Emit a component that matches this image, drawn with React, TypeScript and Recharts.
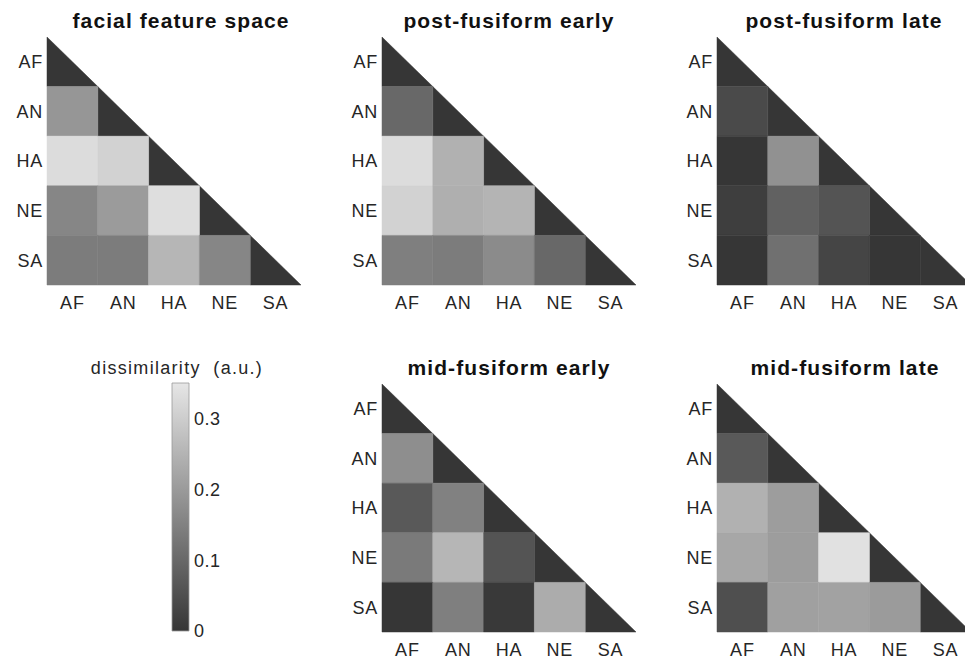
import React from "react";
import { ComposedChart, ReferenceArea, XAxis, YAxis } from "recharts";

const LABELS = ["AF", "AN", "HA", "NE", "SA"];
const CENTER_TICKS = [0.5, 1.5, 2.5, 3.5, 4.5];
const COLORBAR_TICKS = [0, 0.1, 0.2, 0.3];
const V_MAX = 0.35;

// lower triangle, rows AN..SA, columns AF.. (diagonal is 0)
const FACIAL_FEATURE_SPACE = [
  [0.19],
  [0.33, 0.31],
  [0.16, 0.2, 0.335],
  [0.14, 0.14, 0.255, 0.16],
];
const POST_FUSIFORM_EARLY = [
  [0.1],
  [0.33, 0.245],
  [0.31, 0.24, 0.25],
  [0.145, 0.14, 0.17, 0.1],
];
const POST_FUSIFORM_LATE = [
  [0.04],
  [0.0, 0.18],
  [0.015, 0.085, 0.06],
  [0.0, 0.115, 0.03, 0.0],
];
const MID_FUSIFORM_EARLY = [
  [0.175],
  [0.07, 0.15],
  [0.135, 0.255, 0.06],
  [0.0, 0.145, 0.005, 0.235],
];
const MID_FUSIFORM_LATE = [
  [0.07],
  [0.245, 0.205],
  [0.225, 0.205, 0.34],
  [0.05, 0.21, 0.215, 0.2],
];

const FONT = '"Liberation Sans", Arial, Helvetica, sans-serif';
const TEXT = "#262626";

function gray(v: number) {
  const t = Math.max(0, Math.min(v, V_MAX)) / V_MAX;
  const g = Math.round(54 + (230 - 54) * t);
  return `rgb(${g},${g},${g})`;
}

type CellDatum = { row: number; col: number; value: number; diag: boolean };

function buildCells(rows: number[][]): CellDatum[] {
  const cells: CellDatum[] = [];
  for (let i = 0; i < LABELS.length; i++) {
    cells.push({ row: i, col: i, value: 0, diag: true });
    if (i === 0) continue;
    rows[i - 1].forEach((value, j) => cells.push({ row: i, col: j, value, diag: false }));
  }
  return cells;
}

const triangle = (fill: string) => (p: any) => (
  <path
    d={`M${p.x},${p.y}L${p.x},${p.y + p.height}L${p.x + p.width},${p.y + p.height}Z`}
    fill={fill}
    stroke={fill}
    strokeWidth={0.5}
  />
);

const tickStyle = { fontSize: 18, fill: TEXT, fontFamily: FONT, letterSpacing: 0.8 };

function Matrix({
  title,
  rows,
  left,
  top,
  titleX,
}: {
  title: string;
  rows: number[][];
  left: number;
  top: number;
  titleX: number;
}) {
  const cells = buildCells(rows);
  return (
    <>
      <div
        style={{
          position: "absolute",
          left: titleX - 160,
          width: 320,
          top: top - 27,
          textAlign: "center",
          fontSize: 21,
          lineHeight: "21px",
          fontWeight: 700,
          letterSpacing: 1.1,
          color: "#111",
          whiteSpace: "nowrap",
        }}
      >
        {title}
      </div>
      <div style={{ position: "absolute", left: left - 47, top: top - 37 }}>
        <ComposedChart
          width={320}
          height={320}
          data={cells}
          margin={{ top: 37, right: 19, left: 7, bottom: 5 }}
        >
          <XAxis
            type="number"
            dataKey="col"
            domain={[0, 5]}
            ticks={CENTER_TICKS}
            tickFormatter={(v: number) => LABELS[Math.floor(v)]}
            axisLine={false}
            tickLine={false}
            tickSize={6}
            tickMargin={5}
            height={30}
            interval={0}
            tick={tickStyle}
          />
          <YAxis
            type="number"
            dataKey="row"
            domain={[0, 5]}
            reversed
            ticks={CENTER_TICKS}
            tickFormatter={(v: number) => LABELS[Math.floor(v)]}
            axisLine={false}
            tickLine={false}
            tickSize={2}
            tickMargin={2}
            width={40}
            interval={0}
            tick={tickStyle}
          />
          {cells.map((c) => {
            const fill = gray(c.value);
            return (
              <ReferenceArea
                key={`${c.row}-${c.col}`}
                x1={c.col}
                x2={c.col + 1}
                y1={c.row}
                y2={c.row + 1}
                fill={fill}
                fillOpacity={1}
                stroke={fill}
                strokeWidth={0.5}
                ifOverflow="visible"
                shape={c.diag ? triangle(fill) : undefined}
              />
            );
          })}
        </ComposedChart>
      </div>
    </>
  );
}

function ColorBar() {
  const data = COLORBAR_TICKS.map((v) => ({ x: 0.5, v }));
  return (
    <>
      <div
        style={{
          position: "absolute",
          left: 77,
          width: 200,
          top: 359,
          textAlign: "center",
          fontSize: 18,
          lineHeight: "18px",
          letterSpacing: 1.3,
          color: TEXT,
          whiteSpace: "pre",
        }}
      >
        {"dissimilarity  (a.u.)"}
      </div>
      <div style={{ position: "absolute", left: 130, top: 350 }}>
        <ComposedChart
          width={100}
          height={300}
          data={data}
          margin={{ top: 33, right: 0, left: 42, bottom: 19 }}
        >
          <defs>
            <linearGradient id="cbGrad" x1="0" y1="1" x2="0" y2="0">
              <stop offset="0%" stopColor={gray(0)} />
              <stop offset="100%" stopColor={gray(V_MAX)} />
            </linearGradient>
          </defs>
          <XAxis type="number" dataKey="x" domain={[0, 1]} hide />
          <YAxis
            type="number"
            dataKey="v"
            orientation="right"
            domain={[0, V_MAX]}
            ticks={COLORBAR_TICKS}
            axisLine={false}
            tickLine={false}
            tickSize={3}
            tickMargin={2}
            width={41}
            interval={0}
            tick={{ ...tickStyle, letterSpacing: 0.5 }}
          />
          <ReferenceArea
            x1={0}
            x2={1}
            y1={0}
            y2={V_MAX}
            fill="url(#cbGrad)"
            fillOpacity={1}
            stroke="#9a9a9a"
            strokeWidth={0.8}
          />
        </ComposedChart>
      </div>
    </>
  );
}

export default function App() {
  return (
    <div
      style={{
        position: "absolute",
        left: 0,
        top: 0,
        width: 965,
        height: 663,
        overflow: "hidden",
        background: "#fff",
        fontFamily: FONT,
      }}
    >
      <Matrix title="facial feature space" rows={FACIAL_FEATURE_SPACE} left={47} top={37} titleX={181} />
      <Matrix title="post-fusiform early" rows={POST_FUSIFORM_EARLY} left={382} top={37} titleX={509} />
      <Matrix title="post-fusiform late" rows={POST_FUSIFORM_LATE} left={717} top={37} titleX={844} />
      <ColorBar />
      <Matrix title="mid-fusiform early" rows={MID_FUSIFORM_EARLY} left={382} top={384} titleX={509} />
      <Matrix title="mid-fusiform late" rows={MID_FUSIFORM_LATE} left={717} top={384} titleX={845} />
    </div>
  );
}
